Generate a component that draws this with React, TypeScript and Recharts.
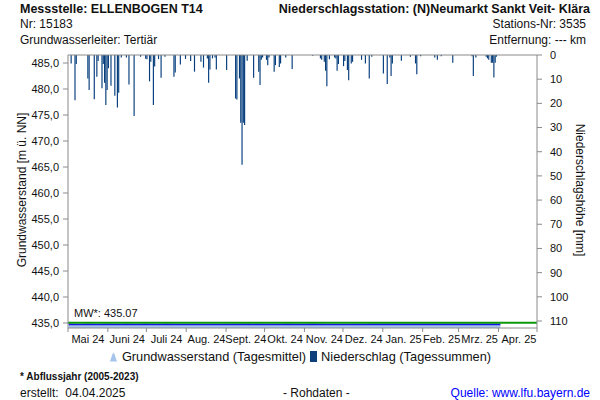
import { ComposedChart, Bar, Area, XAxis, YAxis, ReferenceLine } from 'recharts'

// x = days since 1 May 2024
const monthStarts = [0, 31, 61, 92, 123, 153, 184, 214, 245, 276, 304, 335, 365]
const monthLabels = ['Mai 24', 'Juni 24', 'Juli 24', 'Aug. 24', 'Sept. 24', 'Okt. 24', 'Nov. 24', 'Dez. 24', 'Jan. 25', 'Feb. 25', 'Mrz. 25', 'Apr. 25']
const levelTicks = [435, 440, 445, 450, 455, 460, 465, 470, 475, 480, 485]
const rainTicks = [0, 10, 20, 30, 40, 50, 60, 70, 80, 90, 100, 110]

// [day, mm]
const rain: [number, number][] = [
  [2, 3.5], [5, 18.7], [6, 3.7], [15, 9.7], [16, 14.5], [20, 18.3], [22, 9.0], [23, 2.5],
  [26, 13.8], [27, 3.7], [28, 11.5], [29, 20.7], [30, 14.5], [31, 5.5], [33, 12.7], [36, 16.9],
  [38, 21.7], [39, 15.6], [41, 1.0], [45, 1.0], [47, 12.2], [51, 25.2], [56, 0.7], [60, 1.5],
  [61, 1.8], [63, 10.9], [64, 2.8], [66, 20.7], [67, 4.8], [70, 1.7], [72, 9.4], [75, 0.7],
  [82, 9.0], [83, 7.2], [87, 3.9], [91, 1.6], [95, 2.5], [98, 6.9], [103, 2.8], [105, 5.2],
  [108, 1.4], [109, 11.5], [110, 6.0], [112, 1.4], [114, 1.0], [115, 6.0], [123, 6.2],
  [130, 18.0], [131, 18.4], [133, 9.7], [134, 28.0], [135, 45.4], [136, 28.0], [137, 29.0],
  [139, 2.4], [144, 9.4], [148, 6.9], [149, 12.4], [150, 2.0], [151, 1.0], [154, 2.0],
  [155, 4.2], [156, 1.0], [160, 6.9], [161, 4.2], [164, 5.0], [165, 3.5], [169, 1.0],
  [174, 5.8], [190, 0.3], [196, 1.4], [197, 2.0], [199, 2.8], [200, 6.5], [201, 12.9],
  [203, 1.8], [207, 1.0], [208, 1.4], [209, 6.5], [210, 3.7], [214, 4.6], [215, 2.5],
  [217, 6.2], [218, 10.4], [220, 3.5], [221, 2.8], [228, 2.0], [231, 3.5], [234, 9.7],
  [236, 0.7], [245, 7.6], [248, 12.0], [250, 1.0], [251, 8.7], [252, 3.5], [259, 2.4],
  [266, 0.7], [270, 3.5], [271, 8.0], [274, 0.5], [285, 1.0], [287, 2.0], [290, 0.5],
  [299, 3.2], [314, 0.5], [315, 8.7], [317, 1.0], [325, 0.7], [326, 1.4], [327, 2.0],
  [329, 3.2], [330, 3.2], [331, 9.3], [332, 3.2], [333, 0.7],
]

// [day, m ü. NN]
const groundwater: [number, number][] = [
  [0, 434.74], [8, 434.70], [15, 434.76], [22, 434.70], [30, 434.75], [38, 434.70],
  [45, 434.76], [52, 434.71], [60, 434.75], [68, 434.70], [76, 434.74], [84, 434.72],
  [100, 434.72], [120, 434.72], [140, 434.73], [160, 434.72], [170, 434.75], [180, 434.72],
  [190, 434.76], [200, 434.72], [215, 434.72], [240, 434.73], [270, 434.73], [300, 434.74],
  [315, 434.74], [325, 434.74], [336, 434.74],
]

const meanLevel = 435.07

const rainByDay = new Map(rain)
const gwByDay = new Map(groundwater)
const data = Array.from({ length: 365 }, (_, d) => ({
  t: d + 0.5,
  rain: rainByDay.get(d),
  gw: gwByDay.get(d),
}))
const monthMids = monthLabels.map((_, i) => (monthStarts[i] + monthStarts[i + 1]) / 2)

const FONT = 'Arial, "Liberation Sans", sans-serif'
const AXIS = '#8a8a8a'
const tickStyle = { fontSize: 11, fill: '#111', fontFamily: FONT }

export default function App() {
  return (
    <div style={{ position: 'absolute', left: 0, top: 0, width: 600, height: 400, fontFamily: FONT, fontSize: 12, color: '#111', background: '#fff' }}>
      <div style={{ position: 'absolute', left: 20, top: 2, fontWeight: 'bold', fontSize: 12.5 }}>Messstelle: ELLENBOGEN T14</div>
      <div style={{ position: 'absolute', left: 20, top: 17 }}>Nr: 15183</div>
      <div style={{ position: 'absolute', left: 20, top: 33 }}>Grundwasserleiter: Tertiär</div>
      <div style={{ position: 'absolute', right: 10, top: 2, fontWeight: 'bold', fontSize: 12.5 }}>Niederschlagsstation: (N)Neumarkt Sankt Veit- Klära</div>
      <div style={{ position: 'absolute', right: 14, top: 17 }}>Stations-Nr: 3535</div>
      <div style={{ position: 'absolute', right: 14, top: 33 }}>Entfernung: --- km</div>

      <div style={{ position: 'absolute', left: 0, top: 0 }}>
        <ComposedChart width={600} height={360} data={data} margin={{ top: 55, right: 0, bottom: 8, left: 0 }}>
          <XAxis xAxisId="d" dataKey="t" type="number" domain={[0, 365]} ticks={monthStarts}
            tick={() => <g />} height={4} tickSize={4} stroke={AXIS} allowDataOverflow />
          <XAxis xAxisId="m" type="number" domain={[0, 365]} ticks={monthMids} interval={0}
            tickFormatter={(v: number) => monthLabels[monthMids.indexOf(v)]}
            axisLine={false} tickLine={false} tickSize={0} tickMargin={3} height={20} tick={tickStyle} />
          <YAxis yAxisId="g" orientation="left" width={68} domain={[434.04, 486.54]} ticks={levelTicks}
            allowDataOverflow tickFormatter={(v: number) => v.toFixed(1).replace('.', ',')}
            tickSize={5} tickMargin={4} stroke={AXIS} tick={tickStyle} />
          <YAxis yAxisId="p" orientation="right" width={63} domain={[0, 112.9]} ticks={rainTicks}
            reversed allowDataOverflow tickSize={5} tickMargin={8} stroke={AXIS} tick={{ ...tickStyle, textAnchor: 'start' }} />
          <ReferenceLine yAxisId="p" xAxisId="d" y={0} stroke={AXIS} />
          <Area xAxisId="d" yAxisId="g" dataKey="gw" type="linear" connectNulls
            stroke="#1414e6" strokeWidth={1.6} fill="#a7c5ec" fillOpacity={1} isAnimationActive={false} dot={false} />
          <ReferenceLine xAxisId="d" yAxisId="g" y={meanLevel} stroke="#0a9a0a" strokeWidth={2}
            label={{ value: `MW*: ${meanLevel.toFixed(2)}`, position: 'insideBottomLeft', offset: 6, fontSize: 11, fill: '#111', fontFamily: FONT }} />
          <Bar xAxisId="d" yAxisId="p" dataKey="rain" fill="#053d7c" barSize={1.3} isAnimationActive={false} />
        </ComposedChart>
      </div>

      <div style={{ position: 'absolute', left: 22, top: 190, transform: 'translate(-50%, -50%) rotate(-90deg)', whiteSpace: 'nowrap' }}>
        Grundwasserstand [m ü. NN]
      </div>
      <div style={{ position: 'absolute', left: 580, top: 190, transform: 'translate(-50%, -50%) rotate(90deg)', whiteSpace: 'nowrap' }}>
        Niederschlagshöhe [mm]
      </div>

      <div style={{ position: 'absolute', left: 0, width: 600, top: 349, fontSize: 12.8, display: 'flex', justifyContent: 'center', alignItems: 'center', whiteSpace: 'nowrap' }}>
        <svg width={9} height={10} style={{ marginRight: 4 }}>
          <path d="M0.5 9.5 C2 9 3 1 4.5 1 C6 1 7 9 8.5 9.5 Z" fill="#a7c5ec" />
        </svg>
        <span>Grundwasserstand (Tagesmittel)</span>
        <svg width={8} height={11} style={{ marginLeft: 4, marginRight: 3 }}>
          <rect x={0} y={0} width={7} height={11} fill="#0d3f7a" />
        </svg>
        <span>Niederschlag (Tagessummen)</span>
      </div>

      <div style={{ position: 'absolute', left: 20, top: 371, fontSize: 10, fontWeight: 'bold' }}>* Abflussjahr (2005-2023)</div>
      <div style={{ position: 'absolute', left: 20, top: 386 }}>erstellt:&nbsp; 04.04.2025</div>
      <div style={{ position: 'absolute', left: 283, top: 386 }}>- Rohdaten -</div>
      <div style={{ position: 'absolute', right: 10, top: 386, color: '#0000ff' }}>Quelle: www.lfu.bayern.de</div>
    </div>
  )
}
